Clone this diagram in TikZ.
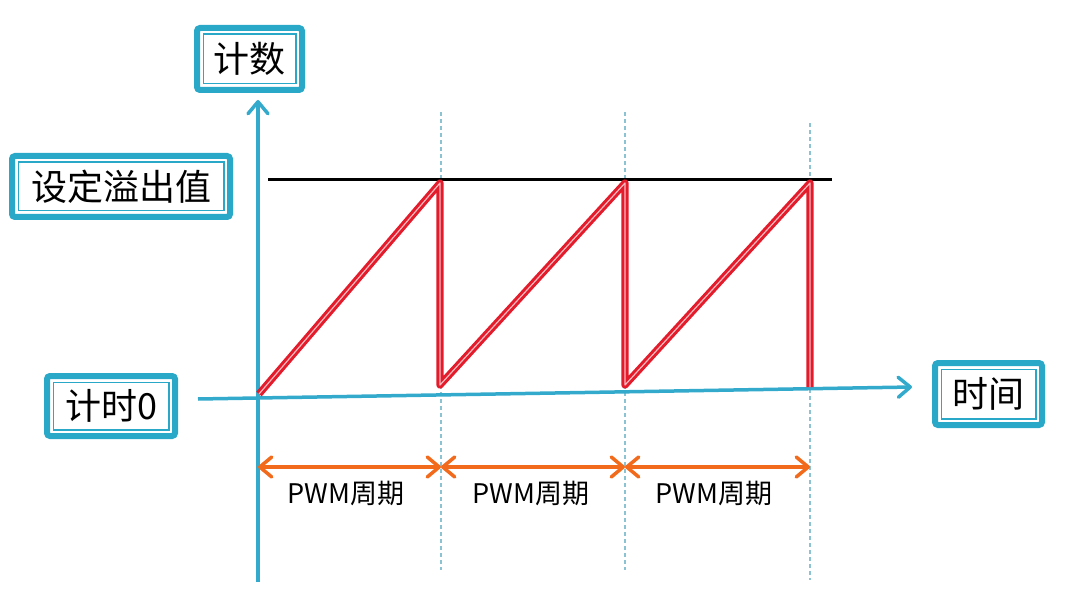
\documentclass[tikz,border=0pt]{standalone}
\usepackage{fontspec}
\setmainfont{Noto Sans CJK SC}
\usetikzlibrary{arrows.meta,calc}
\definecolor{boxc}{HTML}{2AA8C8}
\definecolor{axisc}{HTML}{33A9CB}
\definecolor{redc}{HTML}{E31B2A}
\definecolor{pinkc}{HTML}{F5B9C0}
\definecolor{orangec}{HTML}{F26A1B}
\definecolor{dashc}{HTML}{8CC3D2}
\begin{document}
\begin{tikzpicture}[x=1pt,y=-1pt,
  lbl/.style={draw=boxc, line width=6pt, rounded corners=3pt, fill=white, inner sep=0pt, outer sep=0pt,
    font=\fontsize{36}{40}\selectfont},
  innerbox/.style={draw=boxc, line width=1.6pt},
  axisline/.style={draw=axisc, line width=3.5pt, -{Straight Barb[length=12pt,width=20pt,round]}},
  dashl/.style={draw=dashc, line width=1.3pt, dash pattern=on 4pt off 3pt},
  saw/.style={draw=redc, double=pinkc, double distance=1.2pt, line width=3pt, line join=round},
  period/.style={draw=orangec, line width=3.5pt,
    {Straight Barb[length=12pt,width=20pt,round]}-{Straight Barb[length=12pt,width=20pt,round]}},
  plabel/.style={font=\fontsize{27}{30}\selectfont, inner sep=0pt}
]
\useasboundingbox (0,0) rectangle (1065,593);

% label boxes
\node[lbl, minimum width=105pt, minimum height=62pt] (cnt) at (249.5,59) {计数};
\node[lbl, minimum width=218pt, minimum height=61pt] (ovf) at (121,186.5) {设定溢出值};
\node[lbl, minimum width=128pt, minimum height=60pt] (t0) at (111,406) {计时0};
\node[lbl, minimum width=107pt, minimum height=62pt] (tm) at (988.5,394) {时间};
\foreach \n in {cnt,ovf,t0,tm}
  \draw[innerbox] ([shift={(6.3pt,6.3pt)}]\n.south west) rectangle ([shift={(-6.3pt,-6.3pt)}]\n.north east);

% dashed period markers
\coordinate (d1t) at (441,112); \coordinate (d1b) at (441,570);
\coordinate (d2t) at (625,112); \coordinate (d2b) at (625,570);
\coordinate (d3t) at (810,123); \coordinate (d3b) at (810,580);
\draw[dashl] (d1t) -- (d1b);
\draw[dashl] (d2t) -- (d2b);
\draw[dashl] (d3t) -- (d3b);

% overflow level
\coordinate (ovl) at (268,180); \coordinate (ovr) at (832,180);
\draw[black, line width=3pt] (ovl) -- (ovr);

% axes
\coordinate (vs) at (258,582); \coordinate (ve) at (258,100);
\coordinate (hs) at (198,399); \coordinate (he) at (912,387);
\draw[axisline] (vs) -- (ve);
\draw[axisline] (hs) -- (he);

% sawtooth counter
\coordinate (s0) at (259,394);
\coordinate (s1) at (440,183); \coordinate (s2) at (440,385);
\coordinate (s3) at (625,183); \coordinate (s4) at (625,385);
\coordinate (s5) at (810,183); \coordinate (s6) at (810,387);
\draw[saw] (s0) -- (s1) -- (s2) -- (s3) -- (s4) -- (s5) -- (s6);

% PWM periods
\coordinate (p0) at (258,467); \coordinate (p1) at (441,467);
\coordinate (p2) at (625,467); \coordinate (p3) at (810,467);
\draw[period] (p0) -- (p1);
\draw[period] (p1) -- (p2);
\draw[period] (p2) -- (p3);
\node[plabel] (l1) at (346,493) {PWM周期};
\node[plabel] (l2) at (531,493) {PWM周期};
\node[plabel] (l3) at (714,493) {PWM周期};
\end{tikzpicture}
\end{document}
